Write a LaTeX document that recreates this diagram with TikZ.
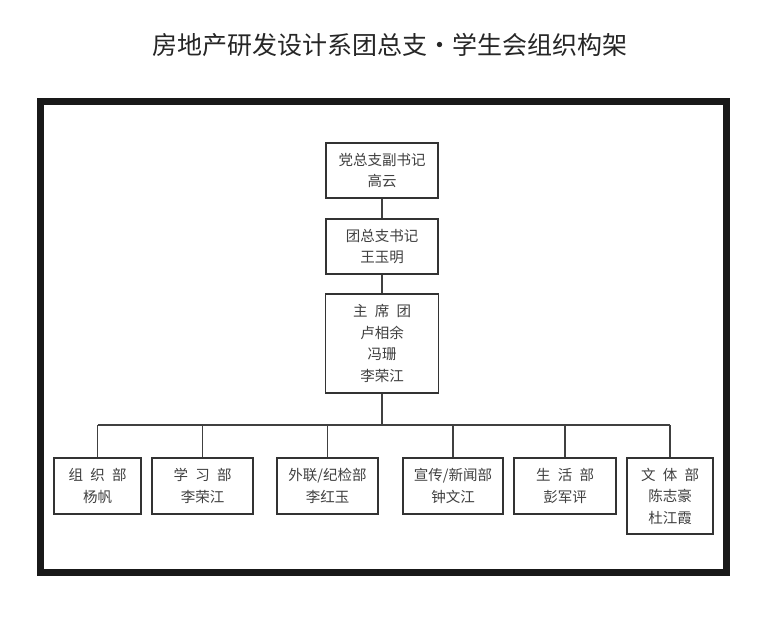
\documentclass[tikz,border=0pt]{standalone}
\usepackage{fontspec}
\setmainfont{Noto Sans CJK SC}
\begin{document}
\begin{tikzpicture}[x=1pt,y=-1pt,
  box/.style={draw=black!80, line width=1.4pt, align=center, inner sep=0pt,
    font=\fontsize{14.5}{21.5}\selectfont, text=black!75},
  conn/.style={draw=black!75, line width=1.2pt}]
\useasboundingbox (0,0) rectangle (768,622);
\fill[white] (0,0) rectangle (768,622);
\node[font=\fontsize{25}{28}\selectfont, text=black!85] (title) at (390,45) {房地产研发设计系团总支•学生会组织构架};
\draw[line width=7pt, black!90] (40.5,101.5) rectangle (726.5,572);
\node[box, minimum width=112pt, minimum height=55pt] (b1) at (382,170.5) {党总支副书记\\高云};
\node[box, minimum width=112pt, minimum height=55pt] (b2) at (382,246.5) {团总支书记\\王玉明};
\node[box, minimum width=113pt, minimum height=99pt] (b3) at (382,343.5) {主\enspace 席\enspace 团\\卢相余\\冯珊\\李荣江};
\node[box, minimum width=87pt, minimum height=56pt] (d1) at (97.5,486) {组\enspace 织\enspace 部\\杨帆};
\node[box, minimum width=101pt, minimum height=56pt] (d2) at (202.5,486) {学\enspace 习\enspace 部\\李荣江};
\node[box, minimum width=101pt, minimum height=56pt] (d3) at (327.5,486) {外联/纪检部\\李红玉};
\node[box, minimum width=100pt, minimum height=56pt] (d4) at (453,486) {宣传/新闻部\\钟文江};
\node[box, minimum width=102pt, minimum height=56pt] (d5) at (565,486) {生\enspace 活\enspace 部\\彭军评};
\node[box, minimum width=86pt, minimum height=76pt] (d6) at (670,496) {文\enspace 体\enspace 部\\陈志豪\\杜江霞};
\coordinate (bus) at (382,425);
\draw[conn] (b1.south) -- (b2.north);
\draw[conn] (b2.south) -- (b3.north);
\draw[conn] (b3.south) -- (bus);
\draw[conn] (bus -| d1.north) -- (bus -| d6.north);
\foreach \d in {d1,d2,d3,d4,d5,d6}{
  \draw[conn] (bus -| \d.north) -- (\d.north);
}
\end{tikzpicture}
\end{document}
